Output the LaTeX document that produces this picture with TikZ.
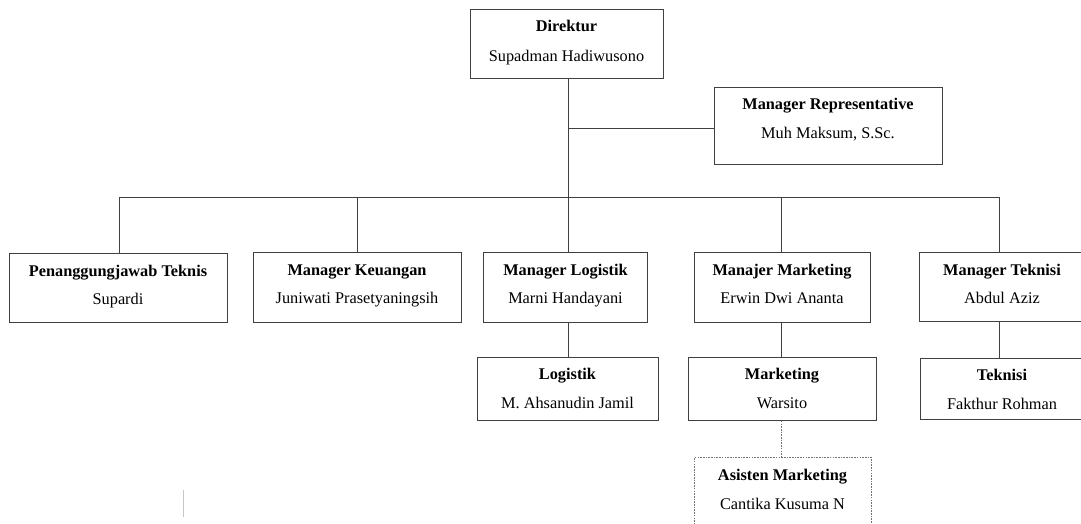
\documentclass[tikz,border=0pt]{standalone}
\usepackage{fontspec}
\setmainfont{Liberation Serif}
\begin{document}
\begin{tikzpicture}[x=1pt,y=-1pt,
  box/.style={draw=black!75, line width=0.8pt, rectangle, inner sep=0pt, anchor=north west},
  dbox/.style={draw=black!55, line width=0.8pt, dash pattern=on 1.6pt off 1.1pt, rectangle, inner sep=0pt, anchor=north west},
  ttl/.style={anchor=base, inner sep=0pt, font=\fontsize{16.3}{19}\selectfont\bfseries},
  nm/.style={anchor=base, inner sep=0pt, font=\fontsize{16.3}{19}\selectfont},
  ln/.style={draw=black!75, line width=0.8pt},
  dln/.style={draw=black!55, line width=0.8pt, dash pattern=on 1.6pt off 1.1pt}]
\useasboundingbox (0,0) rectangle (1081,524);
\fill[white] (0,0) rectangle (1081,524);
% boxes
\node[box, minimum width=193pt, minimum height=69pt] (dir) at (470,9) {};
\node[box, minimum width=228pt, minimum height=77pt] (rep) at (714,87) {};
\node[box, minimum width=218pt, minimum height=69pt] (pj) at (9,253) {};
\node[box, minimum width=208pt, minimum height=70pt] (keu) at (253,252) {};
\node[box, minimum width=164pt, minimum height=70pt] (mlog) at (483,252) {};
\node[box, minimum width=176pt, minimum height=70pt] (mmkt) at (694,252) {};
\node[box, minimum width=166pt, minimum height=69pt] (mtek) at (919,252) {};
\node[box, minimum width=181pt, minimum height=63pt] (log) at (477,357) {};
\node[box, minimum width=188pt, minimum height=63pt] (mkt) at (688,357) {};
\node[box, minimum width=168pt, minimum height=61pt] (tek) at (920,358) {};
\node[dbox, minimum width=177pt, minimum height=80pt] (ast) at (694,457) {};
% texts
\node[ttl] (dirT) at (566.5,32) {Direktur};
\node[nm] (dirN) at (566.5,62) {Supadman Hadiwusono};
\node[ttl] (repT) at (828,110) {Manager Representative};
\node[nm] (repN) at (828,138.5) {Muh Maksum, S.Sc.};
\node[ttl] (pjT) at (118,276) {Penanggungjawab Teknis};
\node[nm] (pjN) at (118,304) {Supardi};
\node[ttl] (keuT) at (357,275) {Manager Keuangan};
\node[nm] (keuN) at (357,303) {Juniwati Prasetyaningsih};
\node[ttl] (mlogT) at (565.5,275) {Manager Logistik};
\node[nm] (mlogN) at (565.5,303) {Marni Handayani};
\node[ttl] (mmktT) at (782,275) {Manajer Marketing};
\node[nm] (mmktN) at (782,303) {Erwin Dwi Ananta};
\node[ttl] (mtekT) at (1002,275) {Manager Teknisi};
\node[nm] (mtekN) at (1002,303) {Abdul Aziz};
\node[ttl] (logT) at (567.5,379) {Logistik};
\node[nm] (logN) at (567.5,408) {M. Ahsanudin Jamil};
\node[ttl] (mktT) at (782,379) {Marketing};
\node[nm] (mktN) at (782,408) {Warsito};
\node[ttl] (tekT) at (1002,380) {Teknisi};
\node[nm] (tekN) at (1002,409) {Fakthur Rohman};
\node[ttl] (astT) at (782.5,480) {Asisten Marketing};
\node[nm] (astN) at (782.5,509) {Cantika Kusuma N};
% bus coordinates
\coordinate (b1) at (119,197);
\coordinate (b2) at (357,197);
\coordinate (b3) at (568,197);
\coordinate (b4) at (781,197);
\coordinate (b5) at (999,197);
\coordinate (rj) at (568,128);
% connectors
\draw[ln] (b1) -- (b5);
\draw[ln] (b3 |- dir.south) -- (b3);
\draw[ln] (rj) -- (rj -| rep.west);
\draw[ln] (b1) -- (b1 |- pj.north);
\draw[ln] (b2) -- (b2 |- keu.north);
\draw[ln] (b3) -- (b3 |- mlog.north);
\draw[ln] (b4) -- (b4 |- mmkt.north);
\draw[ln] (b5) -- (b5 |- mtek.north);
\draw[ln] (b3 |- mlog.south) -- (b3 |- log.north);
\draw[ln] (b4 |- mmkt.south) -- (b4 |- mkt.north);
\draw[ln] (b5 |- mtek.south) -- (b5 |- tek.north);
\draw[dln] (b4 |- mkt.south) -- (b4 |- ast.north);
% stray mark
\draw[gray!45, line width=0.9pt] (183,490) -- (183,517);
\end{tikzpicture}
\end{document}
